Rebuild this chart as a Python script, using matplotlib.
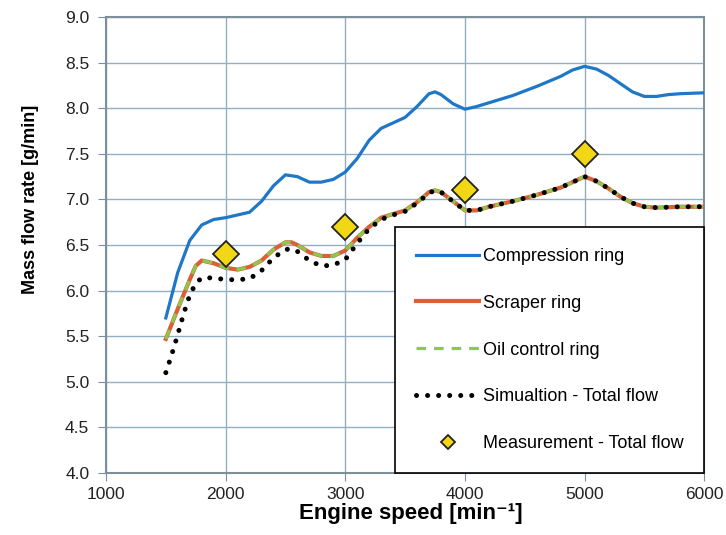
import matplotlib.pyplot as plt

plt.rcParams['font.family'] = ['Liberation Sans', 'DejaVu Sans']

# compression ring
comp_x = [1500, 1600, 1700, 1800, 1900, 2000, 2100, 2200, 2300, 2400, 2500, 2600, 2700,
          2800, 2900, 3000, 3100, 3200, 3300, 3400, 3500, 3600, 3700, 3750, 3800, 3900,
          4000, 4100, 4200, 4400, 4600, 4800, 4900, 5000, 5100, 5200, 5300, 5400, 5500,
          5600, 5700, 5800, 6000]
comp_y = [5.70, 6.20, 6.55, 6.72, 6.78, 6.80, 6.83, 6.86, 6.98, 7.15, 7.27, 7.25, 7.19,
          7.19, 7.22, 7.30, 7.45, 7.65, 7.78, 7.84, 7.90, 8.02, 8.16, 8.18, 8.15, 8.05,
          7.99, 8.02, 8.06, 8.14, 8.24, 8.35, 8.42, 8.46, 8.43, 8.36, 8.27, 8.18, 8.13,
          8.13, 8.15, 8.16, 8.17]

# scraper ring and oil control ring (same curve)
ring_x = [1500, 1600, 1700, 1750, 1800, 1900, 2000, 2100, 2200, 2300, 2400, 2500, 2550,
          2600, 2700, 2800, 2900, 3000, 3100, 3200, 3300, 3400, 3500, 3600, 3700, 3750,
          3800, 3900, 4000, 4100, 4200, 4400, 4600, 4800, 4900, 5000, 5100, 5200, 5300,
          5400, 5500, 5600, 5800, 6000]
ring_y = [5.47, 5.80, 6.12, 6.27, 6.33, 6.30, 6.25, 6.23, 6.26, 6.33, 6.45, 6.53, 6.53,
          6.50, 6.42, 6.38, 6.38, 6.44, 6.58, 6.70, 6.80, 6.84, 6.88, 6.97, 7.08, 7.10,
          7.08, 6.98, 6.88, 6.88, 6.92, 6.98, 7.05, 7.13, 7.19, 7.25, 7.20, 7.12, 7.03,
          6.96, 6.92, 6.91, 6.92, 6.92]

# simulation - total flow
sim_x = [1500, 1550, 1600, 1650, 1700, 1750, 1800, 1900, 2000, 2100, 2200, 2300, 2400,
         2500, 2550, 2600, 2700, 2800, 2900, 3000, 3100, 3200, 3300, 3400, 3500, 3600,
         3700, 3750, 3800, 3900, 4000, 4100, 4200, 4400, 4600, 4800, 4900, 5000, 5100,
         5200, 5300, 5400, 5500, 5600, 5800, 6000]
sim_y = [5.10, 5.30, 5.52, 5.75, 5.95, 6.08, 6.14, 6.14, 6.12, 6.12, 6.13, 6.22, 6.36,
         6.45, 6.46, 6.43, 6.33, 6.27, 6.28, 6.34, 6.52, 6.68, 6.78, 6.83, 6.87, 6.96,
         7.07, 7.10, 7.08, 6.98, 6.88, 6.88, 6.92, 6.98, 7.05, 7.13, 7.19, 7.25, 7.20,
         7.12, 7.03, 6.96, 6.92, 6.91, 6.92, 6.92]

# measurement - total flow
meas_x = [2000, 3000, 4000, 5000]
meas_y = [6.40, 6.70, 7.10, 7.50]

fig = plt.figure(figsize=(7.26, 5.35), dpi=100)
ax = fig.add_axes([0.146, 0.116, 0.824, 0.852])

ax.plot(comp_x, comp_y, color='#1f77c8', lw=2.3, label='Compression ring', zorder=3)
ax.plot(ring_x, ring_y, color='#d9603b', lw=3, label='Scraper ring', zorder=3)
ax.plot(ring_x, ring_y, color='#8cc84b', lw=2.3, ls=(0, (3, 2.5)), label='Oil control ring', zorder=4)
ax.plot(sim_x, sim_y, color='black', lw=3.6, ls=(0, (0.01, 2.2)), dash_capstyle='round',
        label='Simualtion - Total flow', zorder=5)
ax.plot(meas_x, meas_y, ls='none', marker='D', ms=13, mfc='#f2d716', mec='#222222',
        mew=1.3, label='Measurement - Total flow', zorder=6)

ax.set_xlim(1000, 6000)
ax.set_ylim(4.0, 9.0)
ax.set_xticks(range(1000, 6001, 1000))
ax.set_yticks([4.0 + 0.5 * i for i in range(11)])
ax.set_yticklabels([f'{4.0 + 0.5 * i:.1f}' for i in range(11)])
ax.grid(True, color='#8fb0c4', lw=1.0)
ax.set_axisbelow(True)
for s in ax.spines.values():
    s.set_color('#7f8f99')
    s.set_linewidth(1.5)
ax.tick_params(labelsize=12.5, color='#7f8f99', length=6, colors='#222222')
ax.tick_params(axis='y', pad=6)
ax.tick_params(axis='x', pad=4)

ax.set_xlabel('Engine speed [min\u207b\u00b9]', fontsize=16, fontweight='bold')
ax.xaxis.set_label_coords(0.51, -0.066)
ax.set_ylabel('Mass flow rate [g/min]', fontsize=13, fontweight='bold')
ax.yaxis.set_label_coords(-0.112, 0.60)

leg = ax.legend(loc='lower right', bbox_to_anchor=(1.0, 0.0), fontsize=13, frameon=True,
                fancybox=False, edgecolor='black', handlelength=3.5, labelspacing=1.65,
                borderpad=1.15, handletextpad=0.2, borderaxespad=0.0, markerscale=0.55)
leg.get_frame().set_linewidth(1.2)
leg.get_frame().set_alpha(1.0)

fig.savefig('out.png', dpi=100)
